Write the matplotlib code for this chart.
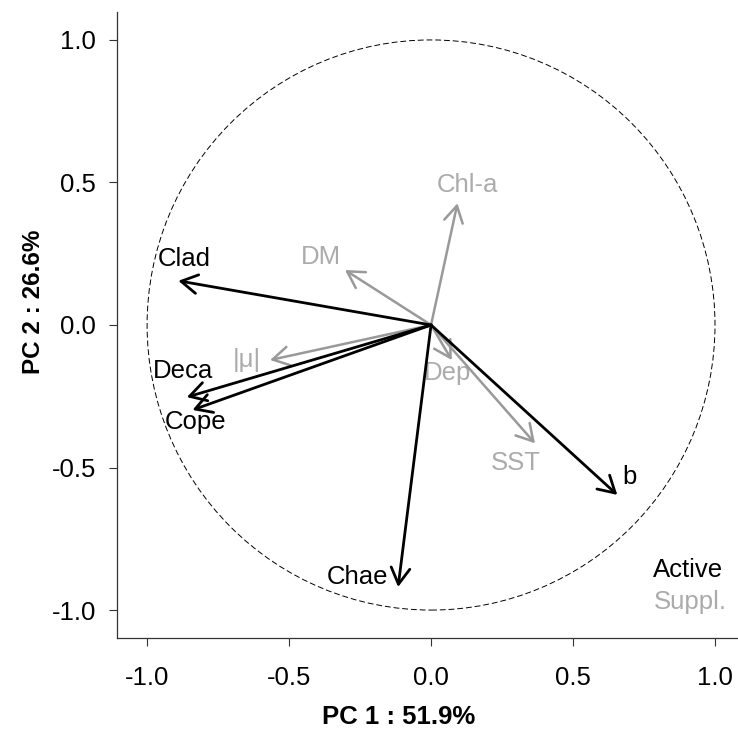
import matplotlib

matplotlib.use("Agg")

import matplotlib.pyplot as plt  # noqa: E402
from matplotlib.patches import Circle  # noqa: E402

plt.rcParams["font.family"] = ["Liberation Sans", "DejaVu Sans"]

# active variables (black) -- PC1 / PC2 coordinates
active_names = ["Clad", "Deca", "Cope", "Chae", "b"]
active_pc1 = [-0.89, -0.86, -0.84, -0.116, 0.656]
active_pc2 = [0.155, -0.253, -0.298, -0.919, -0.596]

# supplementary variables (grey)
suppl_names = ["Chl-a", "DM", "|\u03bc|", "Dep", "SST"]
suppl_pc1 = [0.093, -0.303, -0.567, 0.073, 0.366]
suppl_pc2 = [0.427, 0.193, -0.123, -0.123, -0.415]

x_ticks = [-1.0, -0.5, 0.0, 0.5, 1.0]
y_ticks = [-1.0, -0.5, 0.0, 0.5, 1.0]
x_title = "PC 1 : 51.9%"
y_title = "PC 2 : 26.6%"

# label offsets from arrow tips, in points (placement only)
label_offsets = {
    "Clad": (4, 16, "center"),
    "Deca": (-3, 19, "center"),
    "Cope": (2, -9, "center"),
    "Chae": (-7, 7, "right"),
    "b": (9, 13, "center"),
    "Chl-a": (7, 13, "center"),
    "DM": (-17, 9, "center"),
    "|\u03bc|": (-17, 0, "center"),
    "Dep": (-3, -9, "center"),
    "SST": (-14, -14, "center"),
}

BLACK = "#000000"
GREY_ARROW = "#999999"
GREY_TEXT = "#ababab"
FS = 18.5


def draw_arrows(ax, names, xs, ys, arrow_color, text_color, lw):
    for name, x, y in zip(names, xs, ys):
        ax.annotate(
            "",
            xy=(x, y),
            xytext=(0, 0),
            arrowprops=dict(
                arrowstyle="->,head_length=0.45,head_width=0.26",
                mutation_scale=26,
                lw=lw,
                color=arrow_color,
                shrinkA=0,
                shrinkB=0,
            ),
        )
        dx, dy, ha = label_offsets[name]
        ax.annotate(
            name,
            xy=(x, y),
            xytext=(dx, dy),
            textcoords="offset points",
            ha=ha,
            va="center",
            fontsize=FS,
            color=text_color,
        )


fig = plt.figure(figsize=(7.38, 7.31), dpi=100)
ax = fig.add_axes([117 / 738, 1 - 638 / 731, 1 - 117 / 738, (638 - 12) / 731])

ax.set_xlim(-1.106, 1.081)
ax.set_ylim(-1.098, 1.098)

ax.add_patch(
    Circle((0, 0), 1.0, fill=False, ec="black", lw=0.7, ls=(0, (6, 3)))
)

draw_arrows(ax, suppl_names, suppl_pc1, suppl_pc2, GREY_ARROW, GREY_TEXT, 1.8)
draw_arrows(ax, active_names, active_pc1, active_pc2, BLACK, BLACK, 2.0)

ax.text(1.028, -0.86, "Active", ha="right", va="center", fontsize=FS, color=BLACK)
ax.text(1.042, -0.972, "Suppl.", ha="right", va="center", fontsize=FS, color=GREY_TEXT)

ax.set_xticks(x_ticks)
ax.set_yticks(y_ticks)
ax.set_xticklabels([f"{t:.1f}" for t in x_ticks])
ax.set_yticklabels([f"{t:.1f}" for t in y_ticks])
ax.tick_params(axis="both", direction="out", length=6, width=0.8, color="#333333",
               labelsize=FS)
ax.tick_params(axis="x", pad=14)
ax.tick_params(axis="y", pad=9)

for side in ("top", "right"):
    ax.spines[side].set_visible(False)
for side in ("left", "bottom"):
    ax.spines[side].set_color("#333333")
    ax.spines[side].set_linewidth(0.9)

fig.text(399 / 738, 1 - 717 / 731, x_title, ha="center", va="center",
         fontsize=FS, fontweight="bold")
fig.text(33 / 738, 1 - 302 / 731, y_title, ha="center", va="center",
         fontsize=FS - 1, fontweight="bold", rotation=90)

fig.savefig("out.png", dpi=100)
